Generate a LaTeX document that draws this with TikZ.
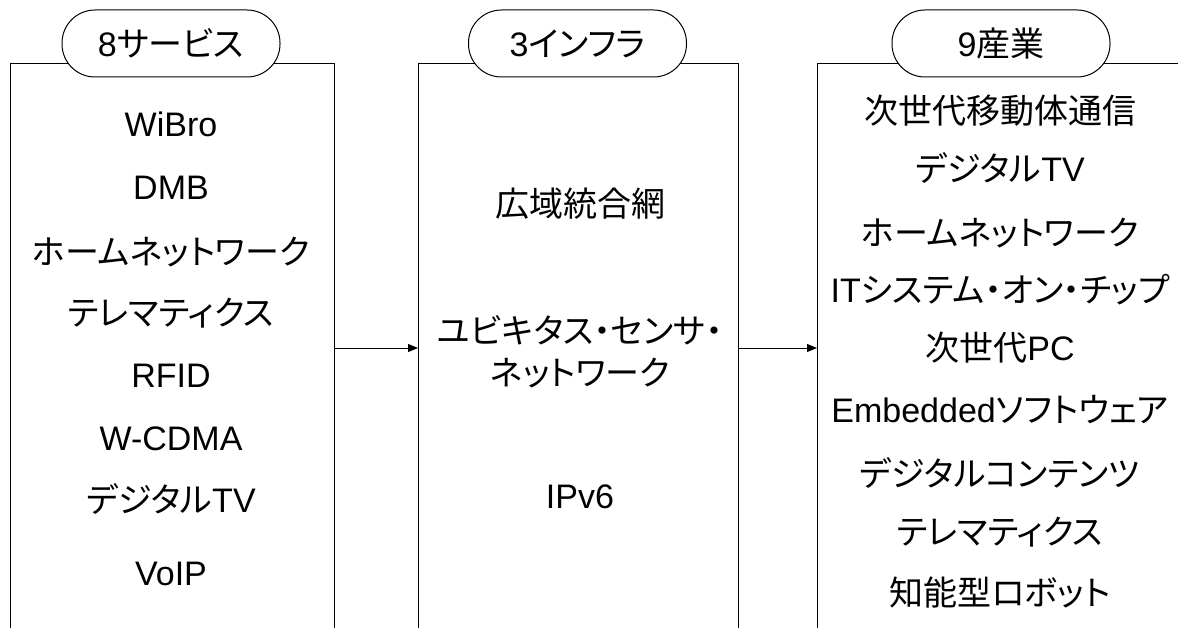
\documentclass[tikz,border=0pt]{standalone}
\usepackage{fontspec}
\setmainfont{Liberation Sans}
\newfontfamily\jp[RawFeature=+palt]{Noto Sans CJK JP}
\usetikzlibrary{arrows.meta}
\begin{document}
\begin{tikzpicture}[x=1pt,y=-1pt,
  colbox/.style={draw, line width=1pt, anchor=north west, inner sep=0pt},
  pill/.style={draw, line width=1pt, fill=white, rounded corners=33pt, minimum width=218pt, minimum height=67pt, inner sep=0pt, font=\fontsize{34}{40}\selectfont},
  txt/.style={anchor=base, inner sep=0pt, font=\fontsize{34}{40}\selectfont},
  arr/.style={line width=1pt, -{Triangle[length=10pt,width=8pt]}}]
\useasboundingbox (0,0) rectangle (1178,628);
\clip (0,0) rectangle (1178,628);
% column boxes (open at the bottom, below the page edge)
\node[colbox, minimum width=324pt, minimum height=600pt] (svc) at (9.5,63) {};
\node[colbox, minimum width=319.5pt, minimum height=600pt] (inf) at (418,63) {};
\node[colbox, minimum width=383pt, minimum height=600pt] (ind) at (817,63) {};
% title pills
\node[pill] (p1) at (171,43.5) {8{\jp サービス}};
\node[pill] (p2) at (577.5,43.5) {3{\jp インフラ}};
\node[pill] (p3) at (1001,43.5) {9{\jp 産業}};
% left column
\node[txt] (l1) at (171,137) {WiBro};
\node[txt] (l2) at (171,200) {DMB};
\node[txt] (l3) at (171,265) {\jp ホームネットワーク};
\node[txt] (l4) at (171,326) {\jp テレマティクス};
\node[txt] (l5) at (171,387) {RFID};
\node[txt] (l6) at (171,450) {W-CDMA};
\node[txt] (l7) at (171,512) {{\jp デジタル}TV};
\node[txt] (l8) at (171,585) {VoIP};
% middle column
\node[txt] (m1) at (580,217) {\jp 広域統合網};
\node[txt] (m2) at (580,344) {\jp ユビキタス・センサ・};
\node[txt] (m3) at (580,385) {\jp ネットワーク};
\node[txt] (m4) at (580,508) {IPv6};
% right column
\node[txt] (r1) at (1000,124) {\jp 次世代移動体通信};
\node[txt] (r2) at (1000,182) {{\jp デジタル}TV};
\node[txt] (r3) at (1000,246) {\jp ホームネットワーク};
\node[txt] (r4) at (1000,302) {IT{\jp システム・オン・チップ}};
\node[txt] (r5) at (1000,360) {{\jp 次世代}PC};
\node[txt] (r6) at (1000,422) {Embedded{\jp ソフトウェア}};
\node[txt] (r7) at (1000,486) {\jp デジタルコンテンツ};
\node[txt] (r8) at (1000,544) {\jp テレマティクス};
\node[txt] (r9) at (1000,605) {\jp 知能型ロボット};
% connectors
\coordinate (ay) at (0,348);
\draw[arr] (svc.east |- ay) -- (inf.west |- ay);
\draw[arr] (inf.east |- ay) -- (ind.west |- ay);
\end{tikzpicture}
\end{document}
